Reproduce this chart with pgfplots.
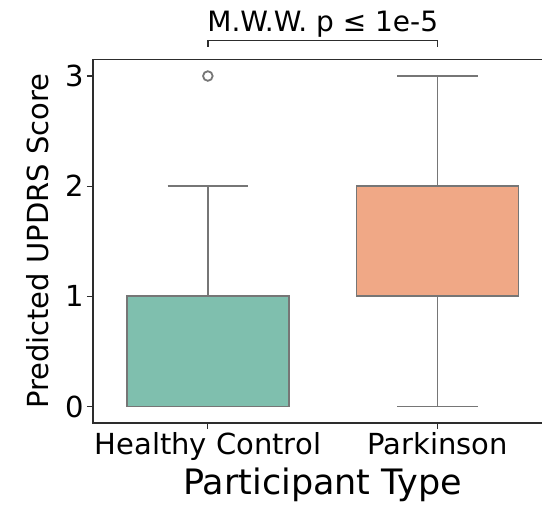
\documentclass[border=0pt]{standalone}
\usepackage{pgfplots}
\pgfplotsset{compat=1.18}
\usepgfplotslibrary{statistics}
\usepackage{fontspec}
\setmainfont{DejaVu Sans}

\definecolor{hcfill}{RGB}{127,191,174}
\definecolor{pdfill}{RGB}{240,168,134}
\definecolor{linegray}{RGB}{118,118,118}
\definecolor{spine}{RGB}{45,45,45}

\begin{document}
\begin{tikzpicture}
\begin{axis}[
    at={(0,0)}, anchor=south west,
    scale only axis, width=459.4pt, height=363.5pt,
    xmin=-0.5, xmax=1.5, ymin=-0.15, ymax=3.15,
    xtick={0,1}, xticklabels={Healthy Control, Parkinson},
    ytick={0,1,2,3},
    tick align=outside, xtick pos=bottom, ytick pos=left,
    major tick length=6pt,
    tick style={spine, line width=1.2pt},
    axis line style={spine, line width=1.5pt},
    ticklabel style={font=\fontsize{29}{34}\selectfont},
    xlabel={Participant Type},
    xlabel style={font=\fontsize{35}{40}\selectfont},
    ylabel={Predicted UPDRS Score},
    ylabel style={font=\fontsize{29}{34}\selectfont},
    ylabel shift=9pt,
    /pgf/number format/assume math mode=true,
    boxplot/draw direction=y,
    clip=false,
]
% Healthy Control
\addplot[boxplot prepared={draw position=0,
    lower whisker=0, lower quartile=0, median=0,
    upper quartile=1, upper whisker=2,
    box extend=0.705, whisker extend=0.35},
    draw=linegray, line width=1.8pt, solid,
    boxplot/every box/.style={fill=hcfill, line width=1.8pt},
    boxplot/every whisker/.style={line width=1.8pt},
    boxplot/every median/.style={line width=1.8pt},
    mark=o, mark size=4.8pt, mark options={draw=linegray, fill=white, line width=1.8pt}]
  table[row sep=\\, y index=0] {3\\};
% Parkinson
\addplot[boxplot prepared={draw position=1,
    lower whisker=0, lower quartile=1, median=1,
    upper quartile=2, upper whisker=3,
    box extend=0.705, whisker extend=0.35},
    draw=linegray, line width=1.8pt, solid,
    boxplot/every box/.style={fill=pdfill, line width=1.8pt},
    boxplot/every whisker/.style={line width=1.8pt},
    boxplot/every median/.style={line width=1.8pt}]
  coordinates {};
% significance bracket
\draw[spine, line width=1.6pt] (axis cs:0,3.264) -- (axis cs:0,3.321)
  -- (axis cs:1,3.321) -- (axis cs:1,3.264);
\node[anchor=base, font=\fontsize{28}{33}\selectfont, inner sep=0pt]
  at (axis cs:0.5,3.4) {M.W.W. p ≤ 1e-5};
\end{axis}
\pgfresetboundingbox
\useasboundingbox (-93pt,-82pt) rectangle (449pt,423pt);
\end{tikzpicture}
\end{document}
